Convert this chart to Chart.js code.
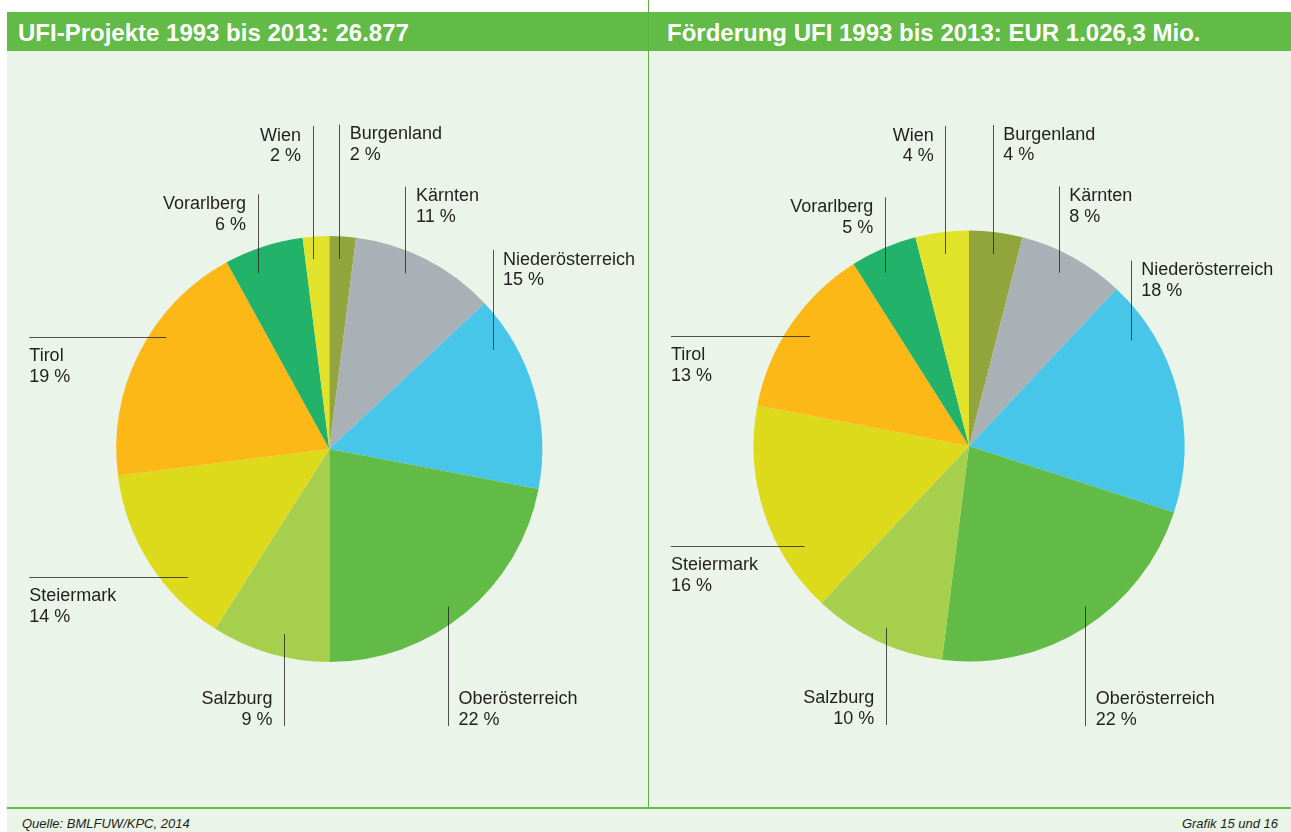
<!DOCTYPE html>
<html>
<head>
<meta charset="utf-8">
<script src="https://cdn.jsdelivr.net/npm/chart.js@4.4.1/dist/chart.umd.min.js"></script>
<style>
  html, body { margin: 0; padding: 0; background: #ffffff; }
  #stage { position: relative; width: 1291px; height: 832px; overflow: hidden; font-family: "Liberation Sans", Arial, sans-serif; }
  .abs { position: absolute; }
  #panel { left: 7px; top: 51px; width: 1284px; height: 781px; background: #EAF4E8; }
  #header { left: 7px; top: 12px; width: 1284px; height: 39px; background: #62BB46; }
  #divider { left: 648px; top: 0px; width: 1px; height: 808px; background: #5DB043; }
  #bottomLine { left: 7px; top: 807px; width: 1284px; height: 2px; background: #62BB46; }
  .title { color: #ffffff; font-weight: bold; font-size: 24px; line-height: 24px; top: 20.5px; white-space: nowrap; }
  .foot { color: #231F20; font-style: italic; font-size: 13px; line-height: 13px; top: 817px; white-space: nowrap; }
  canvas { position: absolute; top: 0; }
</style>
</head>
<body>
<div id="stage">
  <div id="panel" class="abs"></div>
  <div id="header" class="abs"></div>
  <div id="divider" class="abs"></div>
  <div id="bottomLine" class="abs"></div>
  <div id="title1" class="abs title" style="left:18px;"></div>
  <div id="title2" class="abs title" style="left:667px;"></div>
  <div id="src" class="abs foot" style="left:22px;"></div>
  <div id="graf" class="abs foot" style="right:13px;"></div>
  <canvas id="c1" width="648" height="832" style="left:0px;"></canvas>
  <canvas id="c2" width="642" height="832" style="left:649px;"></canvas>
</div>
<script>
// ---------- DATA ----------
const categories = ['Burgenland', 'Kärnten', 'Niederösterreich', 'Oberösterreich', 'Salzburg', 'Steiermark', 'Tirol', 'Vorarlberg', 'Wien'];
const projectShares = [2, 11, 15, 22, 9, 14, 19, 6, 2];   // UFI-Projekte, %
const fundingShares = [4, 8, 18, 22, 10, 16, 13, 5, 4];   // Förderung UFI, %
const titleProjects = 'UFI-Projekte 1993 bis 2013: 26.877';
const titleFunding = 'Förderung UFI 1993 bis 2013: EUR 1.026,3 Mio.';
const sourceText = 'Quelle: BMLFUW/KPC, 2014';
const graphicText = 'Grafik 15 und 16';

// ---------- STYLE ----------
const sliceColors = ['#92A43C', '#A9B0B6', '#48C6EA', '#62BB46', '#A6CF4E', '#DDDA1C', '#FBB817', '#22B26A', '#E1E22A'];

// Leader-line layout (anchor position within slice, direction, extent relative to pie centre)
const layoutProjects = [
  { dir: 'up',   frac: 0.42,  rf: 0.895, end: -324.3, side: 'right' },
  { dir: 'up',   frac: 0.41,  rf: 0.899, end: -262.3, side: 'right' },
  { dir: 'up',   frac: 0.22,  rf: 0.897, end: -199,   side: 'right' },
  { dir: 'down', frac: 0.533, rf: 0.926, end: 277,    side: 'right' },
  { dir: 'down', frac: 0.42,  rf: 0.894, end: 277,    side: 'left' },
  { dir: 'left', frac: 0.305, rf: 0.897, end: -300 },
  { dir: 'left', frac: 0.61,  rf: 0.929, end: -300 },
  { dir: 'up',   frac: 0.305, rf: 0.891, end: -254.7, side: 'left' },
  { dir: 'up',   frac: 0.30,  rf: 0.895, end: -323,   side: 'left' }
];
const layoutFunding = [
  { dir: 'up',   frac: 0.49,  rf: 0.898, end: -321,   side: 'right' },
  { dir: 'up',   frac: 0.45,  rf: 0.905, end: -259.7, side: 'right' },
  { dir: 'up',   frac: 0.21,  rf: 0.897, end: -185.3, side: 'right' },
  { dir: 'down', frac: 0.455, rf: 0.918, end: 280,    side: 'right' },
  { dir: 'down', frac: 0.48,  rf: 0.927, end: 279,    side: 'left' },
  { dir: 'left', frac: 0.27,  rf: 0.893, end: -298 },
  { dir: 'left', frac: 0.51,  rf: 0.897, end: -298 },
  { dir: 'up',   frac: 0.36,  rf: 0.894, end: -248.7, side: 'left' },
  { dir: 'up',   frac: 0.51,  rf: 0.898, end: -320,   side: 'left' }
];

document.getElementById('title1').textContent = titleProjects;
document.getElementById('title2').textContent = titleFunding;
document.getElementById('src').textContent = sourceText;
document.getElementById('graf').textContent = graphicText;

const leaderPlugin = {
  id: 'leaders',
  afterDatasetsDraw(chart, args, opts) {
    const ctx = chart.ctx;
    const meta = chart.getDatasetMeta(0);
    const ds = chart.data.datasets[0];
    ctx.save();
    meta.data.forEach((arc, i) => {
      const L = opts.layout[i];
      const p = arc.getProps(['x', 'y', 'startAngle', 'endAngle', 'outerRadius'], true);
      const a = p.startAngle + L.frac * (p.endAngle - p.startAngle);
      const ax = p.x + Math.cos(a) * L.rf * p.outerRadius;
      const ay = p.y + Math.sin(a) * L.rf * p.outerRadius;
      let ex, ey;
      if (L.dir === 'left') { ex = p.x + L.end; ey = ay; } else { ex = ax; ey = p.y + L.end; }
      ctx.strokeStyle = 'rgba(35,31,32,0.78)';
      ctx.lineWidth = 1;
      ctx.beginPath();
      if (L.dir === 'left') {
        const yy = Math.round(ay) + 0.5;
        ctx.moveTo(ax, yy); ctx.lineTo(ex, yy);
      } else {
        const xx = Math.round(ax) + 0.5;
        ctx.moveTo(xx, ay); ctx.lineTo(xx, ey);
      }
      ctx.stroke();

      const name = chart.data.labels[i];
      const val = ds.data[i] + ' %';
      ctx.fillStyle = '#231F20';
      ctx.font = '18px "Liberation Sans", Arial, sans-serif';
      ctx.textBaseline = 'alphabetic';
      let tx, b1;
      if (L.dir === 'left') {
        tx = ex; ctx.textAlign = 'left'; b1 = ey + 24;
      } else if (L.dir === 'up') {
        b1 = ey + 14.5;
        if (L.side === 'right') { tx = ax + 10.5; ctx.textAlign = 'left'; }
        else { tx = ax - 11.5; ctx.textAlign = 'right'; }
      } else {
        b1 = ey - 1 - 20.7;
        if (L.side === 'right') { tx = ax + 10.5; ctx.textAlign = 'left'; }
        else { tx = ax - 12; ctx.textAlign = 'right'; }
      }
      ctx.fillText(name, tx, b1);
      ctx.fillText(val, tx, b1 + 20.7);
    });
    ctx.restore();
  }
};

function makePie(id, values, layout, padding) {
  return new Chart(document.getElementById(id), {
    type: 'pie',
    data: {
      labels: categories,
      datasets: [{ data: values, backgroundColor: sliceColors, borderWidth: 0 }]
    },
    options: {
      responsive: false,
      animation: false,
      devicePixelRatio: 1,
      layout: { padding: padding },
      plugins: {
        legend: { display: false },
        tooltip: { enabled: false },
        leaders: { layout: layout }
      }
    },
    plugins: [leaderPlugin]
  });
}

makePie('c1', projectShares, layoutProjects, { left: 116.3, right: 105.7, top: 236, bottom: 170 });
makePie('c2', fundingShares, layoutFunding, { left: 104.5, right: 106.5, top: 230.5, bottom: 170.5 });
</script>
</body>
</html>
